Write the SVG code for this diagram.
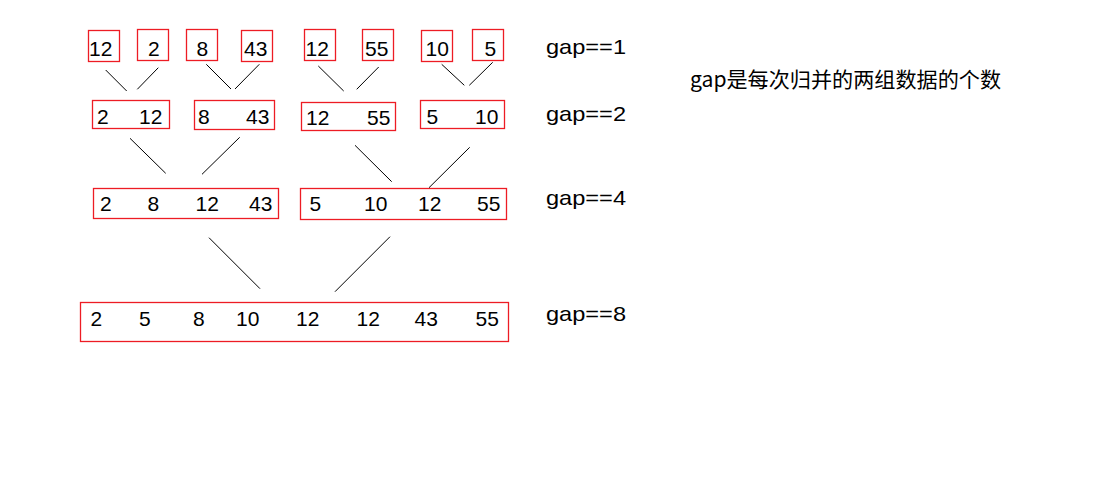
<svg xmlns="http://www.w3.org/2000/svg" width="1112" height="496" viewBox="0 0 1112 496">
<style>
.b{fill:none;stroke:#ed1c24;stroke-width:1.3}
.t{font-family:"Liberation Sans","Noto Sans",sans-serif;font-size:21px;fill:#000}
.c{stroke:#000;stroke-width:1;fill:none}
.z{font-family:"Noto Sans CJK SC","Liberation Sans",sans-serif;font-size:21px;fill:#000}
</style>
<rect width="1112" height="496" fill="#fff"/>
<g id="row1">
<g id="n1a"><rect class="b" x="88.5" y="30.5" width="31" height="31"/><text class="t" x="89" y="56">12</text></g>
<g id="n1b"><rect class="b" x="137.5" y="29.5" width="31" height="31"/><text class="t" x="148" y="56">2</text></g>
<g id="n1c"><rect class="b" x="186.5" y="29.5" width="31" height="31"/><text class="t" x="196.5" y="56">8</text></g>
<g id="n1d"><rect class="b" x="241.5" y="30.5" width="31" height="31"/><text class="t" x="244" y="56">43</text></g>
<g id="n1e"><rect class="b" x="304.5" y="29.5" width="31" height="31"/><text class="t" x="305.5" y="56">12</text></g>
<g id="n1f"><rect class="b" x="362.5" y="29.5" width="31" height="31"/><text class="t" x="365" y="56">55</text></g>
<g id="n1g"><rect class="b" x="421.5" y="30.5" width="31" height="31"/><text class="t" x="425.5" y="56">10</text></g>
<g id="n1h"><rect class="b" x="472.5" y="29.5" width="31" height="31"/><text class="t" x="484.5" y="56">5</text></g>
</g>
<g id="row2">
<g id="n2a"><rect class="b" x="92.5" y="100.5" width="77" height="28"/><text class="t" x="97" y="124">2</text><text class="t" x="139" y="124">12</text></g>
<g id="n2b"><rect class="b" x="194.5" y="100.5" width="80" height="29"/><text class="t" x="198" y="124">8</text><text class="t" x="246" y="124">43</text></g>
<g id="n2c"><rect class="b" x="301.5" y="102.5" width="94" height="28"/><text class="t" x="306" y="124.5">12</text><text class="t" x="367" y="124.5">55</text></g>
<g id="n2d"><rect class="b" x="420.5" y="100.5" width="84" height="28"/><text class="t" x="426.5" y="124">5</text><text class="t" x="475" y="124">10</text></g>
</g>
<g id="row3">
<g id="n3a"><rect class="b" x="93.5" y="188.5" width="185" height="30"/><text class="t" x="100" y="211">2</text><text class="t" x="147.5" y="211">8</text><text class="t" x="195.5" y="211">12</text><text class="t" x="249" y="211">43</text></g>
<g id="n3b"><rect class="b" x="300.5" y="188.5" width="206" height="31"/><text class="t" x="309.5" y="211">5</text><text class="t" x="364" y="211">10</text><text class="t" x="418" y="211">12</text><text class="t" x="477" y="211">55</text></g>
</g>
<g id="row4">
<g id="n4"><rect class="b" x="80.5" y="302.5" width="428" height="39"/>
<text class="t" x="90.5" y="325.5">2</text><text class="t" x="139" y="325.5">5</text><text class="t" x="193" y="325.5">8</text><text class="t" x="236" y="325.5">10</text><text class="t" x="296" y="325.5">12</text><text class="t" x="356.5" y="325.5">12</text><text class="t" x="414.5" y="325.5">43</text><text class="t" x="475.5" y="325.5">55</text></g>
</g>
<g id="connectors">
<line class="c" x1="105.7" y1="70" x2="126.7" y2="91"/>
<line class="c" x1="158.3" y1="67.7" x2="137.3" y2="89.3"/>
<line class="c" x1="206.3" y1="64.3" x2="231" y2="89"/>
<line class="c" x1="259.3" y1="64.3" x2="235" y2="89"/>
<line class="c" x1="318.3" y1="66" x2="343.7" y2="91"/>
<line class="c" x1="378.7" y1="67" x2="356.7" y2="89.3"/>
<line class="c" x1="441.7" y1="64.3" x2="464.3" y2="85.3"/>
<line class="c" x1="492.7" y1="62.3" x2="469.3" y2="85.3"/>
<line class="c" x1="130" y1="138.3" x2="165.7" y2="173.3"/>
<line class="c" x1="239.7" y1="137.3" x2="202" y2="174.3"/>
<line class="c" x1="355" y1="145.3" x2="391.7" y2="181.7"/>
<line class="c" x1="469.7" y1="147.3" x2="429" y2="187.7"/>
<line class="c" x1="209" y1="237.7" x2="260" y2="288.7"/>
<line class="c" x1="390" y1="236.7" x2="335" y2="291.7"/>
</g>
<g id="labels">
<text class="t" x="546" y="54" textLength="80" lengthAdjust="spacingAndGlyphs">gap==1</text>
<text class="t" x="546" y="120.5" textLength="80" lengthAdjust="spacingAndGlyphs">gap==2</text>
<text class="t" x="546" y="205" textLength="80" lengthAdjust="spacingAndGlyphs">gap==4</text>
<text class="t" x="546" y="321" textLength="80" lengthAdjust="spacingAndGlyphs">gap==8</text>
<text class="z" x="690" y="87" textLength="311" lengthAdjust="spacingAndGlyphs">gap是每次归并的两组数据的个数</text>
</g>
</svg>
